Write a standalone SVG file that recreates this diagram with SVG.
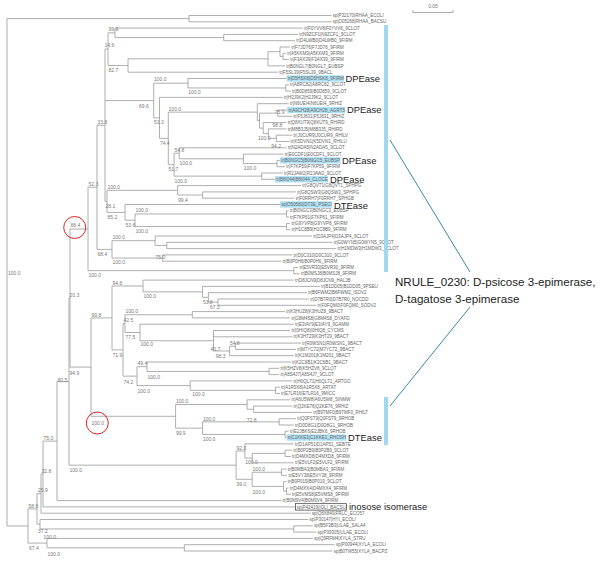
<svg xmlns="http://www.w3.org/2000/svg" width="600" height="563" viewBox="0 0 600 563">
<style>
.br{stroke:#9a9a9a;stroke-width:0.8;fill:none}
.lf{font-family:'Liberation Sans',Arial,sans-serif;font-size:4.5px;fill:#666}
.bs{font-family:'Liberation Sans',Arial,sans-serif;font-size:5px;fill:#7a7a7a}
.an{font-family:'Liberation Sans',Arial,sans-serif;font-size:9.4px;fill:#222}
.big{font-family:'Liberation Sans',Arial,sans-serif;font-size:11.6px;fill:#222}
.hl{fill:#b0e1f5}
.bar{fill:#9fd8ef}
.diag{stroke:#3c8aa3;stroke-width:1;fill:none}
.circ{stroke:#e02020;stroke-width:1;fill:none}
</style>
<rect width="600" height="563" fill="#fff"/>
<g id="connectors" class="br">
<path d="M7,18.65V526 M7,18.65H189 M189,15.5V21.8 M189,15.5H331.5 M189,21.8H331.5"/>
<path d="M7,526H28 M28,508.9V543.1 M28,508.9H37 M37,493.6V524.2 M37,493.6H41 M41,474V513.2 M37,524.2H40 M40,519.5V528.95 M40,519.5H308.4 M40,528.95H293.8 M293.8,525.8V532.1 M293.8,525.8H312.8 M293.8,532.1H316.4"/>
<path d="M41,474H43 M43,441.1V506.9 M41,513.2H310.6 M43,506.9H295.5 M43,441.1H57 M57,381.6V500.6 M57,500.6H281.4"/>
<path d="M28,543.1H47 M47,538.4V547.85 M47,538.4H312.8 M47,547.85H184.3 M184.3,544.7V551 M184.3,544.7H334.7 M184.3,551H332.5"/>
<path d="M57,381.6H69 M69,298.05V465.15 M69,298.05H70 M70,229V367.1"/>
<path d="M69,465.15H236.1 M236.1,451V479.3 M236.1,451H244.9 M244.9,443.9V458.1 M244.9,443.9H293.8 M244.9,458.1H252.2 M252.2,453.35V462.8 M252.2,462.8H293.8 M252.2,453.35H285.1 M285.1,450.2V456.5 M285.1,450.2H292.4 M285.1,456.5H290.9"/>
<path d="M236.1,479.3H252.2 M252.2,472.25V486.4 M252.2,472.25H281.4 M281.4,469.1V475.4 M281.4,469.1H286.5 M281.4,475.4H287.2 M252.2,486.4H283.6 M283.6,481.7V491.15 M283.6,481.7H286.5 M283.6,491.15H286.5 M286.5,488V494.3 M286.5,488H288.7 M286.5,494.3H290.9"/>
<path d="M70,367.1H91 M91,317.95V416.3 M91,317.95H112 M112,286V349.9"/>
<path d="M112,286H143 M143,280.1V291.9 M143,280.1H293.8 M143,291.9H202.6 M202.6,286.4V297.4 M202.6,286.4H320.1 M202.6,297.4H208.4 M208.4,292.7V302.15 M208.4,292.7H307 M208.4,302.15H217.9 M217.9,299V305.3 M217.9,299H309.1 M217.9,305.3H316.4"/>
<path d="M112,349.9H123 M123,323.6V376.15 M123,323.6H125 M125,314.75V332.5 M125,314.75H192.3 M192.3,311.6V317.9 M192.3,311.6H285.1 M192.3,317.9H290.2 M125,332.5H140 M140,324.2V340.75 M140,324.2H293.8 M140,340.75H213.5 M213.5,330.5V351 M213.5,330.5H290.2 M213.5,336.8H292.4 M213.5,351H229.6 M229.6,346.25V355.7 M229.6,355.7H293.8 M229.6,346.25H235.4 M235.4,343.1V349.4 M235.4,343.1H301.1 M235.4,349.4H296"/>
<path d="M123,376.15H137 M137,366.7V385.6 M137,366.7H147 M147,362V371.45 M147,362H290.9 M147,371.45H269 M269,368.3V374.6 M269,368.3H279.2 M269,374.6H279.2 M137,385.6H190.2 M190.2,380.9V390.35 M190.2,380.9H292.4 M190.2,390.35H275.6 M275.6,387.2V393.5 M275.6,387.2H279.9 M275.6,393.5H279.9"/>
<path d="M91,416.3H175.6 M175.6,404.5V428.15 M175.6,404.5H247.1 M247.1,399.8V409.25 M247.1,399.8H290.2 M247.1,409.25H253.7 M253.7,406.1V412.4 M253.7,406.1H292.4 M253.7,412.4H312.1 M175.6,428.15H202.6 M202.6,421.85V434.45 M202.6,421.85H279.2 M279.2,418.7V425 M279.2,418.7H296 M279.2,425H293.8 M202.6,434.45H285.1 M285.1,431.3V437.6 M285.1,431.3H288.7 M285.1,437.6H286.5"/>
<path d="M70,229H88 M88,187.3V270.65 M88,270.65H293.8 M293.8,267.5V273.8 M293.8,267.5H298.2 M293.8,273.8H299.7 M88,187.3H97 M97,125.25V249.4"/>
<path d="M97,249.4H112 M112,240.7V258.05 M112,240.7H155.1 M155.1,236V245.45 M155.1,236H312.1 M155.1,245.45H166.8 M166.8,242.3V248.6 M166.8,242.3H332.5 M166.8,248.6H336.2 M112,258.05H162.4 M162.4,254.9V261.2 M162.4,254.9H292.4 M162.4,261.2H281.4"/>
<path d="M97,125.25H105 M105,49.15V201.35 M105,49.15H108 M108,32.8V65.5 M108,32.8H115 M115,28.1V37.55 M115,28.1H303 M115,37.55H223.7 M223.7,34.4V40.7 M223.7,34.4H298 M223.7,40.7H295"/>
<path d="M108,65.5H128 M128,58.8V72.2 M128,72.2H278 M128,58.8H268 M268,51.7V65.9 M268,65.9H285 M268,51.7H280 M280,47V56.45 M280,47H290 M280,56.45H283 M283,53.3V59.6 M283,53.3H286 M283,59.6H289"/>
<path d="M105,100.55H153.7 M153.7,83.2V117.9 M153.7,83.2H188 M188,78.5V87.95 M188,78.5H286.5 M188,87.95H285.8 M285.8,84.8V91.1 M285.8,84.8H288.7 M285.8,91.1H290.9 M153.7,117.9H159.5 M159.5,97.4V138.4 M159.5,97.4H282.9 M159.5,138.4H168.3 M168.3,112.15V164.7"/>
<path d="M168.3,112.15H257.3 M257.3,103.7V120.6 M257.3,103.7H288.7 M257.3,120.6H259.5 M259.5,113.15V128.1 M259.5,113.15H277.8 M277.8,110V116.3 M277.8,110H287.2 M277.8,116.3H292.4 M259.5,128.1H263.2 M263.2,122.6V133.6 M263.2,122.6H286.5 M263.2,133.6H268.3 M268.3,128.9V138.35 M268.3,128.9H286.5 M268.3,138.35H276.3 M276.3,135.2V141.5 M276.3,135.2H292.4 M276.3,141.5H289.4"/>
<path d="M168.3,164.7H174.1 M174.1,153.3V176.15 M174.1,153.3H179.2 M179.2,147.8V158.8 M179.2,147.8H286.5 M179.2,158.8H243.4 M243.4,154.1V163.55 M243.4,154.1H283.6 M243.4,163.55H277 M277,160.4V166.7 M277,160.4H280 M277,166.7H285.1 M174.1,176.15H261.7 M261.7,173V179.3 M261.7,173H282.9 M261.7,179.3H275"/>
<path d="M105,201.35H107 M107,190.3V212.4 M107,190.3H177.7 M177.7,185.6V195.05 M177.7,185.6H301.1 M177.7,195.05H202.6 M202.6,191.9V198.2 M202.6,191.9H296 M202.6,198.2H294.5 M107,212.4H125 M125,204.5V220.25 M125,204.5H280 M125,220.25H135 M135,213.95V226.55 M135,213.95H286.5 M286.5,210.8V217.1 M286.5,210.8H288.7 M286.5,217.1H288.7 M135,226.55H286.5 M286.5,223.4V229.7 M286.5,223.4H290.2 M286.5,229.7H290.2"/>
</g>
<g id="highlights">
<rect class="hl" x="286.5" y="75.3" width="57.5" height="6.4"/>
<rect class="hl" x="287.2" y="106.8" width="57.9" height="6.4"/>
<rect class="hl" x="280" y="157.2" width="60.5" height="6.4"/>
<rect class="hl" x="275" y="176.1" width="53" height="6.4"/>
<rect class="hl" x="280" y="201.3" width="52" height="6.4"/>
<rect class="hl" x="286.5" y="434.4" width="59.8" height="6.4"/>
<rect x="295.5" y="503.7" width="51" height="6.4" fill="none" stroke="#333" stroke-width="0.7"/>
</g>
<g id="leaves" class="lf">
<text id="l1" x="332.7" y="17.1">sp|P32170|RHAA_ECOLI</text>
<text id="l2" x="332.7" y="23.4">sp|O05268|RHAA_BACSU</text>
<text id="l3" x="304.2" y="29.7">tr|F0YVV8|F0YVV8_9CLOT</text>
<text id="l4" x="299.2" y="36">tr|N9ZCF1|N9ZCF1_9CLOT</text>
<text id="l5" x="296.2" y="42.3">tr|D4LWB0|D4LWB0_9FIRM</text>
<text id="l6" x="291.2" y="48.6">tr|F7JD76|F7JD76_9FIRM</text>
<text id="l7" x="287.2" y="54.9">tr|A5KKM3|A5KKM3_9FIRM</text>
<text id="l8" x="290.2" y="61.2">tr|F3AX39|F3AX39_9FIRM</text>
<text id="l9" x="286.2" y="67.5">tr|B0NGL7|B0NGL7_EUBSP</text>
<text id="l10" x="279.2" y="73.8">tr|F5SL39|F5SL39_9BACL</text>
<text id="l11" x="287.7" y="80.1">tr|D5HSK8|D5HSK8_9FIRM</text>
<text id="l12" x="289.9" y="86.4">tr|A8RC82|A8RC82_9CLOT</text>
<text id="l13" x="292.1" y="92.7">tr|B0D859|B0D859_9CLOT</text>
<text id="l14" x="284.1" y="99">tr|H2J9K2|H2J9K2_9CLOT</text>
<text id="l15" x="289.9" y="105.3">tr|N6UEI4|N6UEI4_9RHIZ</text>
<text id="l16" x="288.4" y="111.6">tr|A9CH28|A9CH28_AGRT5</text>
<text id="l17" x="293.6" y="117.9">tr|F5J831|F5J831_9RHIZ</text>
<text id="l18" x="287.7" y="124.2">tr|Q8XUT9|Q8XUT9_RHIRD</text>
<text id="l19" x="287.7" y="130.5">tr|M8B3J5|M8B3J5_RHIRD</text>
<text id="l20" x="293.6" y="136.8">tr|J0CUR9|J0CUR9_RHILV</text>
<text id="l21" x="290.6" y="143.1">tr|K5DVN1|K5DVN1_RHILU</text>
<text id="l22" x="287.7" y="149.4">tr|N2ADA5|N2ADA5_9CLOT</text>
<text id="l23" x="284.8" y="155.7">tr|E0CDF1|E0CDF1_9CLOT</text>
<text id="l24" x="281.2" y="162">tr|B0NGC5|B0NGC5_EUBSP</text>
<text id="l25" x="286.3" y="168.3">tr|F7KP59|F7KP59_9FIRM</text>
<text id="l26" x="284.1" y="174.6">tr|R2JAW2|R2JAW2_9CLOT</text>
<text id="l27" x="276.2" y="180.9">tr|B8I044|B8I044_CLOCE</text>
<text id="l28" x="302.3" y="187.2">tr|G8QVT1|G8QVT1_SPHPG</text>
<text id="l29" x="297.2" y="193.5">tr|G8QSW3|G8QSW3_SPHPG</text>
<text id="l30" x="295.7" y="199.8">tr|F0RRH7|F0RRH7_SPHGB</text>
<text id="l31" x="281.2" y="206.1">sp|O50580|DT3E_PSECI</text>
<text id="l32" x="289.9" y="212.4">tr|B0NGC3|B0NGC3_EUBSP</text>
<text id="l33" x="289.9" y="218.7">tr|F7KP61|F7KP61_9FIRM</text>
<text id="l34" x="291.4" y="225">tr|G9YVP8|G9YVP8_9FIRM</text>
<text id="l35" x="291.4" y="231.3">tr|H1C8B9|H1C8B9_9FIRM</text>
<text id="l36" x="313.3" y="237.6">tr|D3AJP4|D3AJP4_9CLOT</text>
<text id="l37" x="333.7" y="243.9">tr|G0WYN5|G0WYN5_9CLOT</text>
<text id="l38" x="337.4" y="250.2">tr|H1MDW3|H1MDW3_9CLOT</text>
<text id="l39" x="293.6" y="256.5">tr|D0C310|D0C310_9CLOT</text>
<text id="l40" x="282.6" y="262.8">tr|B0P0H6|B0P0H6_9FIRM</text>
<text id="l41" x="299.4" y="269.1">tr|E5VR30|E5VR30_9FIRM</text>
<text id="l42" x="300.9" y="275.4">tr|B0MSJ8|B0MSJ8_9FIRM</text>
<text id="l43" x="295" y="281.7">tr|D8JCN9|D8JCN9_HALJB</text>
<text id="l44" x="321.3" y="288">tr|B1DD05|B1DD05_9PSEU</text>
<text id="l45" x="308.2" y="294.3">tr|B6FWM2|B6FWM2_ISOV2</text>
<text id="l46" x="310.3" y="300.6">tr|D7B7R0|D7B7R0_NOCDD</text>
<text id="l47" x="317.6" y="306.9">tr|F0FQM0|F0FQM0_SODV2</text>
<text id="l48" x="286.3" y="313.2">tr|K3HUZ8|K3HUZ8_9BACT</text>
<text id="l49" x="291.4" y="319.5">tr|G8M4S8|G8M4S8_DYAFD</text>
<text id="l50" x="295" y="325.8">tr|E3IAY9|E3IAY9_9GAMM</text>
<text id="l51" x="291.4" y="332.1">tr|I0HIQ8|I0HIQ8_CYCMS</text>
<text id="l52" x="293.6" y="338.4">tr|K3HT29|K3HT29_9BACT</text>
<text id="l53" x="302.3" y="344.7">tr|R0WSN1|R0WSN1_9BACT</text>
<text id="l54" x="297.2" y="351">tr|M7YC72|M7YC72_9BACT</text>
<text id="l55" x="295" y="357.3">tr|K1M201|K1M201_9BACT</text>
<text id="l56" x="292.1" y="363.6">tr|K2C6B1|K2C6B1_9BACT</text>
<text id="l57" x="280.4" y="369.9">tr|K5HZV8|K5HZV8_9CLOT</text>
<text id="l58" x="280.4" y="376.2">tr|A8S4J7|A8S4J7_9CLOT</text>
<text id="l59" x="293.6" y="382.5">tr|H0QL71|H0QL71_ARTGO</text>
<text id="l60" x="281.1" y="388.8">tr|A1R5X8|A1R5X8_ARTAT</text>
<text id="l61" x="281.1" y="395.1">tr|E7LR16|E7LR16_9MICC</text>
<text id="l62" x="291.4" y="401.4">tr|A6U5W8|A6U5W8_SINMW</text>
<text id="l63" x="293.6" y="407.7">tr|Q2KE76|Q2KE76_9RHIZ</text>
<text id="l64" x="313.3" y="414">tr|B9TMF0|B9TMF0_RHILT</text>
<text id="l65" x="297.2" y="420.3">tr|Q0FST9|Q0FST9_9RHOB</text>
<text id="l66" x="295" y="426.6">tr|D0D8G1|D0D8G1_9RHOB</text>
<text id="l67" x="289.9" y="432.9">tr|E2JBK6|E2JBK6_9RHOB</text>
<text id="l68" x="287.7" y="439.2">tr|C1KKE1|C1KKE1_RHOSH</text>
<text id="l69" x="295" y="445.5">tr|D1AP51|D1AP51_SEBTE</text>
<text id="l70" x="293.6" y="451.8">tr|B0P2B9|B0P2B9_9CLOT</text>
<text id="l71" x="292.1" y="458.1">tr|D4MXD8|D4MXD8_9FIRM</text>
<text id="l72" x="295" y="464.4">tr|E5VLF2|E5VLF2_9FIRM</text>
<text id="l73" x="287.7" y="470.7">tr|B0MBA3|B0MBA3_9FIRM</text>
<text id="l74" x="288.4" y="477">tr|E5VY38|E5VY38_9FIRM</text>
<text id="l75" x="287.7" y="483.3">tr|B0P019|B0P019_9CLOT</text>
<text id="l76" x="289.9" y="489.6">tr|D4MXX4|D4MXX4_9FIRM</text>
<text id="l77" x="292.1" y="495.9">tr|E5VMS8|E5VMS8_9FIRM</text>
<text id="l78" x="282.6" y="502.2">tr|B0M9V4|B0M9V4_9FIRM</text>
<text id="l79" x="296.7" y="508.5">sp|P42419|IOLI_BACSU</text>
<text id="l80" x="311.8" y="514.8">sp|Q8X840|FRLC_ECO57</text>
<text id="l81" x="309.6" y="521.1">sp|P30147|HYI_ECOLI</text>
<text id="l82" x="314" y="527.4">sp|B5F3B3|ULAE_SALA4</text>
<text id="l83" x="317.6" y="533.7">sp|P39305|ULAE_ECOLI</text>
<text id="l84" x="314" y="540">sp|Q9RFM4|XYLA_STRU</text>
<text id="l85" x="335.9" y="546.3">sp|P00944|XYLA_ECOLI</text>
<text id="l86" x="333.7" y="552.6">sp|B0TW55|XYLA_BACPZ</text>
</g>
<g id="support" class="bs">
<text x="108.5" y="31">99.9</text><text x="104.5" y="47">14.6</text><text x="108.5" y="71.5">82.7</text>
<text x="154" y="81">100.0</text><text x="188.3" y="94">100.0</text><text x="139" y="107.5">69.6</text>
<text x="168.6" y="110.5">100.0</text><text x="274.8" y="113.5">75.9</text><text x="154" y="124">51.3</text>
<text x="97.5" y="123.5">33.8</text><text x="272.6" y="126.5">98.8</text><text x="258" y="140">100.0</text>
<text x="159.9" y="144.5">74.4</text><text x="271.2" y="148">94.2</text><text x="174.5" y="151.5">54.8</text>
<text x="179.6" y="165">100.0</text><text x="243.8" y="170">100.0</text><text x="168.6" y="171">51.7</text>
<text x="174.5" y="182.5">100.0</text><text x="88.5" y="185.5">52.3</text><text x="107.5" y="188.5">100.0</text>
<text x="178.1" y="201.5">99.4</text><text x="105.5" y="207.5">28.1</text><text x="135.5" y="212">100.0</text>
<text x="107.5" y="218.5">85.2</text><text x="125.5" y="226.5">53.6</text><text x="70.5" y="227">88.4</text>
<text x="135.5" y="232.5">100.0</text><text x="112.5" y="239">100.0</text><text x="97.5" y="255.5">68.4</text>
<text x="155.5" y="259">75.0</text><text x="112.5" y="264">100.0</text><text x="8" y="275">100.0</text>
<text x="88.5" y="277">100.0</text><text x="112.5" y="284.5">94.6</text><text x="69.5" y="296.5">20.3</text>
<text x="143.5" y="298">100.0</text><text x="202.9" y="303.5">53.8</text><text x="209.9" y="308.5">67.3</text>
<text x="125.5" y="313">100.0</text><text x="91.5" y="316.5">99.8</text><text x="123.5" y="322">42.5</text>
<text x="125.5" y="338.5">77.5</text><text x="140.5" y="345.5">100.0</text><text x="229.9" y="344.5">54.8</text>
<text x="210.6" y="350.5">40.7</text><text x="112.5" y="356.5">71.9</text><text x="215.7" y="357.5">98.3</text>
<text x="137.5" y="365">49.4</text><text x="69.5" y="375">94.9</text><text x="147.5" y="378.5">100.0</text>
<text x="57.5" y="381.5">80.5</text><text x="123.5" y="383.5">74.2</text><text x="137.5" y="392.5">100.0</text>
<text x="192.3" y="395.5">100.0</text><text x="175.9" y="403">100.0</text><text x="246.7" y="422">72.8</text>
<text x="91.5" y="424.5">100.0</text><text x="202.9" y="420.5">100.0</text><text x="175.9" y="435">99.9</text>
<text x="202.9" y="441">100.0</text><text x="43.5" y="440">75.0</text><text x="236.5" y="449.5">92.0</text>
<text x="245.3" y="464">100.0</text><text x="69.5" y="471.5">100.0</text><text x="252.6" y="470.5">100.0</text>
<text x="41.5" y="472.5">32.8</text><text x="236.5" y="485.5">99.0</text><text x="252.6" y="493.5">100.0</text>
<text x="38" y="492">25.9</text><text x="28.5" y="507.5">58.6</text><text x="38" y="532.5">37.2</text>
<text x="43.5" y="538.5">100.0</text><text x="29" y="550">67.4</text><text x="47.5" y="556">100.0</text>
</g>
<g id="circles">
<circle class="circ" cx="74.7" cy="227.5" r="11"/>
<circle class="circ" cx="97.3" cy="423" r="11"/>
</g>
<g id="scale">
<path class="br" d="M413,12.5H453 M413,10V13 M453,10V13"/>
<text class="bs" x="433" y="8" text-anchor="middle">0.05</text>
</g>
<g id="annotations">
<text class="an" x="345.5" y="81.9">DPEase</text>
<text class="an" x="347" y="113.4">DPEase</text>
<text class="an" x="342" y="163.8">DPEase</text>
<text class="an" x="330" y="182.7">DPEase</text>
<text class="an" x="334" y="209.2">DTEase</text>
<text class="an" x="348" y="441">DTEase</text>
<text class="an" x="349" y="510.3">inosose isomerase</text>
<rect class="bar" x="384" y="25" width="4" height="247"/>
<rect class="bar" x="384" y="397" width="4" height="48"/>
<path class="diag" d="M390,140L470,272 M470,307L390,406"/>
<text class="big" x="395" y="285.5">NRULE_0230: D-psicose 3-epimerase,</text>
<text class="big" x="395" y="302.5">D-tagatose 3-epimerase</text>
</g>
</svg>
